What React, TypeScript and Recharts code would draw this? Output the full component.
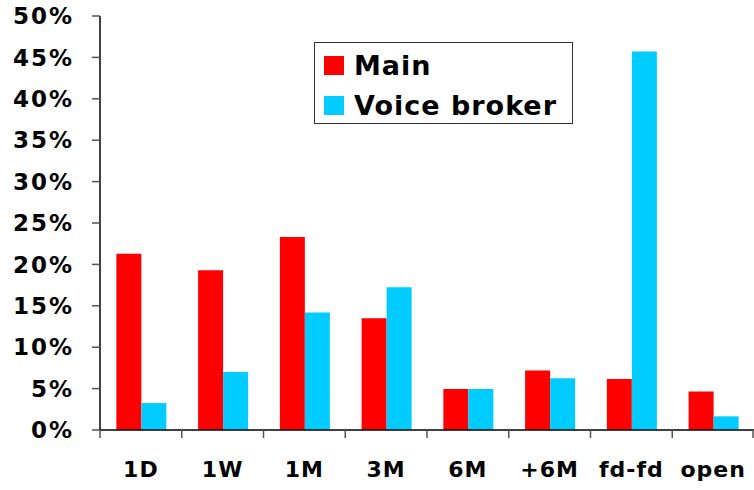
import React from 'react';
import { BarChart, Bar, XAxis, YAxis, Legend } from 'recharts';

const categories = ['1D', '1W', '1M', '3M', '6M', '+6M', 'fd-fd', 'open'];
const mainValues = [21.3, 19.3, 23.3, 13.5, 4.95, 7.2, 6.15, 4.65];
const voiceValues = [3.25, 7.0, 14.2, 17.25, 4.95, 6.25, 45.7, 1.65];
const yTicks = [0, 5, 10, 15, 20, 25, 30, 35, 40, 45, 50];

const data = categories.map((c, i) => ({ cat: c, Main: mainValues[i], 'Voice broker': voiceValues[i] }));

const FONT = '"DejaVu Sans", Verdana, sans-serif';
const TICK_SIZE = 8;
const X_TICK_MARGIN = 23;

const XTick = (props: any) => {
  const { x, y, payload, index } = props;
  const half = payload && payload.offset ? payload.offset : 0;
  const axisY = y - TICK_SIZE - X_TICK_MARGIN;
  const isLast = index === categories.length - 1;
  return (
    <g>
      <line x1={x - half} x2={x - half} y1={axisY} y2={axisY + TICK_SIZE} stroke="#555" strokeWidth={1.5} />
      {isLast && (
        <line x1={x + half - 1} x2={x + half - 1} y1={axisY} y2={axisY + TICK_SIZE} stroke="#555" strokeWidth={1.5} />
      )}
      <text
        x={x}
        y={y}
        dy={16}
        textAnchor="middle"
        fill="#000"
        fontSize={22}
        fontWeight="bold"
        fontFamily={FONT}
        letterSpacing={1}
      >
        {payload.value}
      </text>
    </g>
  );
};

const LegendBox = (props: any) => {
  const { payload } = props;
  return (
    <div
      style={{
        border: '1.5px solid #333',
        background: '#fff',
        boxSizing: 'border-box',
        width: 259,
        height: 82,
        padding: '2.5px 0 0 9px',
        fontFamily: FONT,
        fontWeight: 'bold',
        fontSize: 27,
        letterSpacing: 1,
        color: '#000',
      }}
    >
      {(payload || []).map((p: any) => (
        <div key={p.value} style={{ display: 'flex', alignItems: 'center', height: 40 }}>
          <span style={{ display: 'inline-block', width: 20, height: 19, background: p.color, marginRight: 10 }} />
          <span style={{ lineHeight: '40px' }}>{p.value}</span>
        </div>
      ))}
    </div>
  );
};

export default function App() {
  return (
    <div style={{ position: 'absolute', left: 0, top: 0, width: 754, height: 490, background: '#fff' }}>
      <BarChart
        width={754}
        height={490}
        data={data}
        margin={{ top: 16, right: 0, left: 0, bottom: 0 }}
        barCategoryGap="20%"
        barGap={0}
      >
        <XAxis
          dataKey="cat"
          height={60}
          axisLine={{ stroke: '#000', strokeWidth: 1.5 }}
          tickLine={false}
          tickSize={TICK_SIZE}
          tickMargin={X_TICK_MARGIN}
          tick={<XTick />}
          interval={0}
        />
        <YAxis
          width={100}
          domain={[0, 50]}
          ticks={yTicks}
          tickFormatter={(v: number) => `${v}%`}
          axisLine={{ stroke: '#000', strokeWidth: 1.5 }}
          tickLine={{ stroke: '#555', strokeWidth: 1.5 }}
          tickSize={TICK_SIZE}
          tickMargin={18}
          tick={{ fill: '#000', fontSize: 23, fontWeight: 'bold', fontFamily: FONT, letterSpacing: 2 }}
          interval={0}
        />
        <Legend
          layout="vertical"
          align="center"
          verticalAlign="middle"
          content={<LegendBox />}
          wrapperStyle={{ position: 'absolute', left: 314, top: 42, width: 259, height: 82 }}
        />
        <Bar dataKey="Main" fill="#FF0000" isAnimationActive={false} />
        <Bar dataKey="Voice broker" fill="#00CCFF" isAnimationActive={false} />
      </BarChart>
    </div>
  );
}
